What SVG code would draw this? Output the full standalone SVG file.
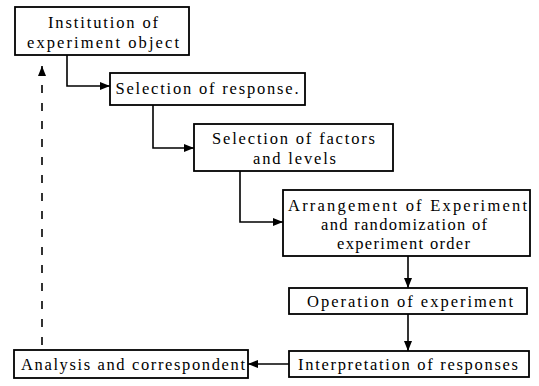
<svg xmlns="http://www.w3.org/2000/svg" width="539" height="386" viewBox="0 0 539 386">
<style>
.box{fill:#fff;stroke:#000;stroke-width:1.8}
.t{font-family:"Liberation Serif","Times New Roman",serif;font-size:16.5px;fill:#000;text-anchor:middle}
.c{fill:none;stroke:#000;stroke-width:1.6}
.d{fill:none;stroke:#000;stroke-width:1.6;stroke-dasharray:8 10}
</style>
<defs>
<marker id="ah" viewBox="0 0 10 8" refX="10" refY="4" markerWidth="10" markerHeight="8" markerUnits="userSpaceOnUse" orient="auto">
<path d="M0,0 L10,4 L0,8 Z" fill="#000"/>
</marker>
</defs>
<rect width="539" height="386" fill="#fff"/>
<g id="connectors">
<path class="c" d="M67,55 V86 H110" marker-end="url(#ah)"/>
<path class="c" d="M153,105 V148 H194" marker-end="url(#ah)"/>
<path class="c" d="M240,171 V222 H283" marker-end="url(#ah)"/>
<path class="c" d="M408,256 V288" marker-end="url(#ah)"/>
<path class="c" d="M408,314 V351" marker-end="url(#ah)"/>
<path class="c" d="M289,364 H248" marker-end="url(#ah)"/>
<path class="d" d="M42,345 V70"/>
<path class="c" d="M42,76 V66" marker-end="url(#ah)"/>
</g>
<g id="n1">
<rect class="box" x="15" y="7" width="174" height="48"/>
<text class="t" x="103" y="28" textLength="110" lengthAdjust="spacing">Institution of</text>
<text class="t" x="103" y="47.5" textLength="152" lengthAdjust="spacing">experiment object</text>
</g>
<g id="n2">
<rect class="box" x="110" y="73" width="195" height="32"/>
<text class="t" x="207" y="94" textLength="183" lengthAdjust="spacing">Selection of response.</text>
</g>
<g id="n3">
<rect class="box" x="194" y="124" width="199" height="47"/>
<text class="t" x="293.5" y="144" textLength="163" lengthAdjust="spacing">Selection of factors</text>
<text class="t" x="294.5" y="163.5" textLength="83" lengthAdjust="spacing">and levels</text>
</g>
<g id="n4">
<rect class="box" x="283" y="190" width="247" height="66"/>
<text class="t" x="407.5" y="211" textLength="239" lengthAdjust="spacing">Arrangement of Experiment</text>
<text class="t" x="404" y="230" textLength="166" lengthAdjust="spacing">and randomization of</text>
<text class="t" x="403.5" y="249" textLength="133" lengthAdjust="spacing">experiment order</text>
</g>
<g id="n5">
<rect class="box" x="289" y="288" width="238" height="26"/>
<text class="t" x="410" y="307" textLength="206" lengthAdjust="spacing">Operation of experiment</text>
</g>
<g id="n6">
<rect class="box" x="289" y="351" width="240" height="26"/>
<text class="t" x="408" y="370" textLength="220" lengthAdjust="spacing">Interpretation of responses</text>
</g>
<g id="n7">
<rect class="box" x="14" y="350" width="234" height="28"/>
<text class="t" x="133" y="370" textLength="224" lengthAdjust="spacing">Analysis and correspondent</text>
</g>
</svg>
